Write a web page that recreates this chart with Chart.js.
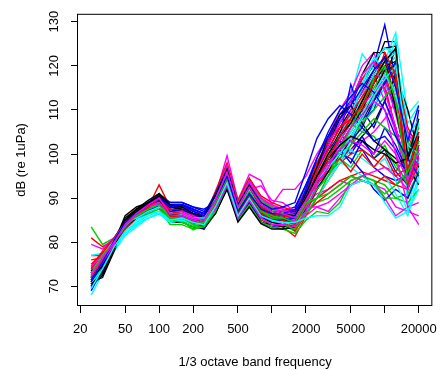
<!DOCTYPE html>
<html>
<head>
<meta charset="utf-8">
<script src="https://cdn.jsdelivr.net/npm/chart.js@4.4.1/dist/chart.umd.min.js"></script>
<style>
html, body { margin: 0; padding: 0; background: #fff; }
#wrap { width: 446px; height: 370px; }
</style>
</head>
<body>
<div id="wrap"><canvas id="c" width="446" height="370"></canvas></div>
<script>
// 1/3 octave band centre frequencies (Hz)
const bands = [25, 31.5, 40, 50, 63, 80, 100, 125, 160, 200, 250, 315, 400, 500, 630, 800, 1000, 1250, 1600, 2000, 2500, 3150, 4000, 5000, 6300, 8000, 10000, 12500, 16000, 20000];

// axis ticks
const xTickValues = [20, 50, 100, 200, 500, 1000, 2000, 5000, 10000, 20000];
const xTickLabels = ['20', '50', '100', '200', '500', '', '2000', '5000', '', '20000'];
const yTickValues = [70, 80, 90, 100, 110, 120, 130];

// default plotting palette, cycled over the recordings
const lineColours = ['#000000', '#FF0000', '#00CD00', '#0000FF', '#00FFFF', '#FF00FF'];

// band levels, dB re 1uPa, one array per recording
const spec01 = [72.5, 74, 79, 85.5, 87.5, 88.5, 89.5, 85.5, 85, 84, 83.5, 87.5, 93.5, 85.5, 89.5, 85.5, 84.5, 84, 83, 90, 96, 101, 106, 110, 114, 119, 125.5, 125.5, 92, 101];
const spec02 = [81, 79, 80.5, 83.5, 86, 88, 93, 88, 88, 87, 86.5, 90.5, 97, 88.5, 93, 89, 87.5, 87, 86.5, 88, 94, 99, 103, 107, 112, 118, 122, 112, 104, 99];
const spec03 = [83.5, 79.5, 81, 84.5, 86, 87, 88, 85, 85.5, 84, 85.5, 90, 95.5, 88, 93, 87.5, 86, 85, 83.5, 87, 93, 97, 101, 105, 109, 113, 117, 110, 96, 108];
const spec04 = [70, 75, 80, 84, 86.5, 88, 90.5, 89, 89, 88, 87.5, 89, 94, 86, 90.5, 86.5, 86, 86, 86.5, 92, 97, 102, 107, 111, 117, 120, 129.3, 117, 101, 104];
const spec05 = [68, 73, 78, 81.5, 83.5, 85.5, 86.5, 85, 85, 84, 83.5, 87, 92.5, 85, 89, 85.5, 84.5, 84, 85, 93, 99, 104, 108, 113, 122.7, 119, 121, 127.5, 109, 112];
const spec06 = [79.5, 78.5, 81, 84, 86.5, 88, 90, 87, 87, 86, 85, 90.5, 99.6, 89.5, 95.4, 94, 88.5, 92, 92, 95, 100, 104, 110, 114, 120, 123, 116, 105, 93, 97];
const spec07 = [71, 72, 78, 84, 87, 89, 90, 87.5, 87, 86, 85.5, 89.5, 96, 87.5, 92, 88.5, 87, 87, 86, 88, 92, 96, 99, 101, 104, 107, 112, 118, 110, 100];
const spec08 = [77, 77, 79.5, 84, 86.5, 88.5, 91, 86, 85, 84, 83.5, 87, 93, 85, 89, 85, 84, 83.5, 81.3, 86, 90, 94, 98, 102, 107, 113, 120, 122, 90, 96];
const spec09 = [73, 77, 80.5, 84, 86, 87.5, 88.5, 85.5, 86, 84.5, 83.5, 87.5, 93, 85.5, 90, 86, 84.5, 84, 82.5, 86.5, 89, 90, 92, 94, 95, 94, 93, 90, 91, 96];
const spec10 = [71.5, 76, 80, 83.5, 85.5, 87, 88, 86.5, 87, 86, 85, 88.5, 94, 87.5, 91, 87.5, 86, 86, 86.5, 90, 95, 100, 104, 115.8, 108, 110, 117, 110, 99, 96];
const spec11 = [77, 77.5, 79, 82.5, 84.5, 86.5, 88, 87, 86.5, 86, 85.5, 90, 96, 88, 92, 88, 87, 86.5, 85.5, 88, 92, 96, 99, 103, 107, 111, 115, 113, 100, 107];
const spec12 = [70.5, 75, 80, 84.5, 87, 88, 89, 87, 87, 86, 85, 89.5, 97.5, 89, 93.5, 90, 88, 87.5, 86.5, 89, 91, 92, 94, 93, 94, 93, 92, 88, 87, 86];
const spec13 = [74, 73, 79.5, 84.5, 87, 88.5, 89, 84.5, 84.5, 83.5, 83, 86.5, 92.5, 85, 88.5, 84.5, 83.5, 83, 83.5, 89, 95, 100, 105, 109, 115, 121, 124, 124.5, 96, 102];
const spec14 = [74.5, 78, 81, 85, 87, 88, 89.5, 87.5, 87, 86.5, 86, 91, 97, 89, 93, 89.5, 88, 87.5, 87, 91, 97, 103, 108, 112, 117, 121, 118, 111, 105, 103];
const spec15 = [72, 76.5, 80, 84, 86, 87, 88, 84.5, 85, 83, 84, 88.5, 94, 86.5, 90.5, 86.5, 85, 84.5, 84, 88, 92, 96, 99, 97, 101, 99, 102, 97, 94, 99];
const spec16 = [69.5, 74.5, 80, 84, 86.5, 88.5, 91, 89, 89, 88, 87, 90, 94, 87, 91, 87, 86.5, 87, 88, 93, 98, 101, 104, 103, 101, 97, 95, 94, 95, 110];
const spec17 = [72, 77, 81, 84, 85.5, 86.5, 86.5, 85.5, 85.5, 84.5, 84, 87.5, 93.5, 86, 89.5, 85.5, 84.5, 84, 83.5, 88, 94, 98, 103, 108, 116, 122, 119, 126, 88, 97];
const spec18 = [73, 76, 79, 83, 86, 87.5, 88.5, 86, 86.5, 85.5, 84.5, 89, 95, 87.5, 91.5, 87.5, 86, 85.5, 85.5, 88, 92, 95, 98, 101, 103, 105, 108, 112, 104, 103];
const spec19 = [70, 72.5, 78.5, 85, 87.5, 88.5, 89, 85.5, 85.5, 84.5, 83.5, 86.5, 92.5, 85, 89, 84.5, 84, 83.5, 84, 90, 96, 102, 108, 112, 118, 123, 123, 116, 102, 97];
const spec20 = [72.5, 76.5, 80.5, 84.5, 86.5, 88, 89.5, 86.5, 86, 85, 85, 89.5, 95.5, 87.5, 92, 87.5, 86.5, 85.5, 83, 87, 89, 91, 93, 95, 96, 95, 94, 93, 95, 99];
const spec21 = [71, 75.5, 79.5, 84, 86.5, 88, 89, 86.5, 86, 84.5, 83.5, 89.5, 96.5, 88.5, 93.5, 89.5, 87.5, 86.5, 85, 89, 94, 99, 104, 108, 112, 116, 121, 118, 97, 105];
const spec22 = [73.5, 77, 80, 83.5, 85.5, 87, 88.5, 88, 88.5, 87.5, 86.5, 88.5, 93.5, 85.5, 89.5, 85.5, 85, 85.5, 86, 91, 95, 98, 100, 99, 96, 92, 89.5, 92, 90, 96];
const spec23 = [69, 74, 79, 83, 85, 86.5, 87, 85.5, 86, 85.5, 85, 88.5, 94, 86.5, 90.5, 86.5, 85.5, 85, 84, 89, 94, 99, 102, 105, 110, 116, 120, 122, 107, 111];
const spec24 = [74, 76.5, 79.5, 83.5, 86, 87.5, 89, 87, 87, 86, 85.5, 90, 96, 89, 93.5, 90, 88.5, 87.5, 86.5, 90, 95, 99, 104, 110, 114, 118, 112, 105, 102, 99];
const spec25 = [71.5, 74, 79, 84, 86.5, 88, 89, 86.5, 85.5, 84.5, 84, 87.5, 93.5, 85.5, 90, 85.5, 84.5, 84, 83.5, 87, 92, 97, 101, 104, 108, 112, 117, 124, 98, 103];
const spec26 = [75, 77.5, 80, 84, 86, 87.5, 88.5, 86, 85.5, 84.5, 84, 88.5, 94.5, 87, 91, 87, 85.5, 85, 82.5, 86.5, 92, 97, 101, 106, 111, 117, 115, 106, 95, 102];
const spec27 = [73.5, 77, 80.5, 84, 86, 87.5, 88, 85, 85, 82.8, 84, 89, 95.5, 88.5, 92.5, 88.5, 86.5, 86, 84.5, 88.5, 93, 98, 103, 107, 110, 115, 119, 114, 103, 98];
const spec28 = [70.5, 75.5, 80, 84.5, 87, 89, 91, 88, 88.5, 87.5, 83, 87.5, 92, 85.5, 88.5, 85.5, 85, 85.5, 86.5, 91.5, 95, 99, 103, 100, 104, 99, 101, 96, 93, 100];
const spec29 = [71, 75.5, 79, 82, 84, 85.5, 86.5, 85.5, 86, 85, 84.5, 88.5, 94, 86.5, 90.5, 87, 86, 86, 86, 90, 95, 97, 98, 97, 95, 93, 95, 91, 86, 94];
const spec30 = [72, 76, 80, 84, 86, 87.5, 88, 85.5, 85.5, 84.5, 84, 89, 95, 88, 92, 92.8, 89.5, 89, 87, 86, 88, 87, 90, 93, 94, 93, 90, 86, 88, 84];
const spec31 = [73, 76, 80.5, 85, 87, 88.5, 90, 87.5, 87, 86, 85, 88.5, 95, 87, 91.5, 87, 86, 85.5, 85, 89, 94, 98, 102, 106, 110, 116, 120, 121, 93, 104];
const spec32 = [71.5, 75, 79, 83, 85.5, 87.5, 89, 86, 85.5, 85, 84.5, 89.5, 96, 88, 92.5, 88.5, 87, 86.5, 85, 88, 93, 96, 98, 100, 101, 99, 97, 96, 100, 103];
const spec33 = [74, 77, 80.5, 84.5, 87, 88, 88.5, 86, 85.5, 84.5, 84.5, 90.5, 97.5, 89.5, 94.5, 89.5, 88, 87, 86, 89, 95, 100, 104, 107, 105, 104, 101, 98, 93, 96];
const spec34 = [72, 76.5, 81, 84.5, 86.5, 88, 89.5, 88, 88, 86.5, 85.5, 87, 92.5, 84.8, 88.5, 84.5, 83.5, 84, 85, 90, 96, 103, 109, 112, 110, 106, 112, 106, 96, 100];
const spec35 = [70, 75, 79.5, 83.5, 85.5, 87, 88, 86.5, 86.5, 85.5, 85, 89, 95, 87.5, 91.5, 88, 86.5, 86, 85, 89.5, 96, 100, 104, 109, 115, 121, 124, 123, 104, 108];
const spec36 = [73.5, 77, 80, 84, 86, 87.5, 88.5, 86, 85.5, 84.5, 84, 87.5, 93.5, 86, 90, 86.5, 85, 84.5, 84, 88, 92, 96, 100, 104, 108, 114, 117, 109, 98, 102];
const spec37 = [71, 73.5, 78.5, 84, 87, 89, 90.5, 88, 87.5, 86, 85, 88.5, 94.5, 86, 90.5, 86, 85, 85, 84, 88, 93, 99, 104, 108, 113, 118, 122, 110, 97, 93];
const spec38 = [73, 77, 80.5, 84.5, 86.5, 88, 89.5, 87.5, 87, 86, 85.5, 91.5, 98, 89.5, 94.5, 90.5, 89, 88, 87, 92, 98, 103, 106, 108, 110, 113, 116, 119, 106, 101];
const spec39 = [72, 76, 79.5, 83.5, 85.5, 86.5, 87.5, 84, 84, 83, 83.5, 86.5, 92.5, 85, 88.5, 84.5, 83.5, 83, 82, 85, 87, 86.5, 89, 94, 95, 94, 90, 90, 89, 92];
const spec40 = [70, 74, 79.5, 83.5, 86, 88, 90, 88.5, 88.5, 87.5, 86.5, 89, 94, 86.5, 90.5, 86.5, 86, 86.5, 87, 91, 95, 98, 101, 103, 106, 112, 116, 121, 100, 106];
const spec41 = [72.5, 76.5, 80, 83, 84, 85.5, 86.5, 85, 85, 84.5, 84, 87.5, 93, 86, 89.5, 86, 85, 84.5, 84.5, 88, 93, 95, 98, 101, 99, 97, 99, 94, 87, 95];
const spec42 = [71.5, 75.5, 79.5, 84, 86.5, 88, 89.5, 87, 87, 86, 85, 90, 96.5, 88.5, 93, 89, 87.5, 87, 85.5, 90, 96, 102, 107, 112, 118, 121, 114, 106, 96, 102];
const spec43 = [72, 75, 80, 86, 88, 89, 89.5, 86, 85.5, 84.5, 83.5, 86.5, 92, 84.6, 88, 84.2, 83, 83, 83.5, 87.5, 92, 96, 100, 103, 108, 114, 119, 120, 100, 97];
const spec44 = [74, 77.5, 81, 84.5, 86, 87.5, 89, 86.5, 86, 85, 84, 88.5, 94.5, 87.5, 91.5, 87.5, 86, 85, 83.5, 88.5, 90, 92, 94, 95, 94, 93, 95, 93, 92, 98];
const spec45 = [70.5, 75, 79, 83.5, 86, 87.5, 88.5, 86, 85.5, 84, 84, 89.5, 95.5, 88.5, 92, 88, 86.5, 86, 85, 89, 94, 98, 101, 104, 107, 110, 113, 116, 101, 106];
const spec46 = [71, 76, 80.5, 84, 86, 88, 89.5, 88, 88.5, 87, 86, 88, 93, 86, 90, 86, 85.5, 85.5, 86, 90, 94, 97, 101, 98, 103, 100, 106, 102, 96, 99];
const spec47 = [73, 77, 80.5, 84, 85.5, 87, 88, 86.5, 86.5, 85.5, 85, 89.5, 95.5, 87.5, 92, 88, 86.5, 86, 85, 89, 95, 100, 104, 107, 113, 118, 121, 123, 97, 107];
const spec48 = [72.5, 76, 79.5, 83.5, 86, 88, 89, 87, 86.5, 85.5, 85, 90.5, 97.5, 89, 94, 90, 88.5, 87.5, 86, 89.5, 95, 99, 103, 107, 111, 114, 118, 114, 105, 100];
const spec49 = [73.5, 75, 80, 85, 87.5, 89, 90.5, 88, 87.5, 86.5, 85.5, 90, 96.5, 88, 92.5, 88, 86.5, 86, 85.5, 91, 97, 104, 109, 111, 107, 103, 101, 99, 96, 103];
const spec50 = [76, 76.5, 79, 83, 85.5, 87, 88, 85.5, 85.5, 84.5, 84, 88, 93.5, 86, 90, 86.5, 85, 84.5, 84, 89, 96, 101, 106, 109, 113, 117, 121, 116, 93, 100];
const spec51 = [72.5, 76, 80, 84, 86.5, 88, 89, 86, 86, 84.5, 84.5, 89, 95, 87.5, 91.5, 87, 86, 85.5, 84, 88, 92, 95, 99, 102, 105, 108, 106, 104, 97, 100];
const spec52 = [71, 75, 80, 84, 86, 87.5, 89, 88.5, 88.5, 87.5, 86.5, 91, 96.5, 88.5, 93, 89, 87.5, 88, 89, 96, 103.5, 108, 111, 109, 106, 103, 104, 101, 95, 102];
const spec53 = [70.5, 74, 78.5, 82, 84, 85.5, 86.5, 84.5, 85, 84, 84, 87.5, 93.5, 86, 90, 86, 85, 84.5, 84, 87, 90, 94, 98, 103, 109, 114, 118, 114, 101, 98];
const spec54 = [74.5, 77, 80, 84, 86, 87.5, 89, 86, 85.5, 84.5, 84, 88, 94, 87, 90.5, 86.5, 85.5, 85, 85, 88, 88, 89, 91, 93, 95, 96, 97, 95, 92, 99];
const spec55 = [72, 74.5, 79, 84.5, 87, 88.5, 89.5, 86.5, 86, 85, 84.5, 88.5, 94.5, 86.5, 91, 86.5, 85.5, 85, 84.5, 89, 95, 100, 104, 107, 112, 117, 121, 124, 99, 108];
const spec56 = [73, 76, 80, 84, 86, 87.5, 90, 87, 86.5, 85.5, 85, 89.5, 96, 88, 92.5, 88, 86.5, 86, 85.5, 90, 93, 97, 99, 96, 100, 97, 100, 95, 97, 102];
const spec57 = [71.5, 75.5, 80, 84.5, 86.5, 88, 88.5, 85, 84.5, 83.5, 83.5, 87, 93, 85.5, 89.5, 85.5, 84, 84, 83, 86.5, 90, 95, 101, 106, 111, 117, 120, 112, 94, 103];
const spec58 = [69, 74, 79.5, 83.5, 85.5, 87, 88.5, 87, 87.5, 86.5, 85, 87.5, 93, 85.5, 89.5, 86, 85, 85, 85.5, 92, 99, 105, 110, 113, 116, 114, 110, 104, 99, 95];
const spec59 = [72, 76, 80.5, 84.5, 85.5, 87, 88, 86.5, 86.5, 85.5, 85.5, 90, 96.5, 88.5, 93, 88.5, 87, 86.5, 86, 89, 94, 97, 100, 104, 108, 113, 117, 120, 102, 100];
const spec60 = [73, 75.5, 79.5, 84, 86.5, 88, 89, 86, 86, 85, 84.5, 87.5, 93, 85.5, 89.5, 85.5, 84, 84, 83.5, 87, 93, 97, 102, 106, 109, 112, 110, 100, 88, 89];
const spec61 = [70.5, 73, 78.5, 85, 87.5, 89.5, 91, 88.5, 88, 86.5, 86, 90.5, 96.5, 88.5, 93, 88.5, 87, 86.5, 86, 90, 95, 99, 102, 104, 103, 101, 100, 98, 99, 105];
const spec62 = [72, 76, 80, 84, 86, 88, 90, 86, 85.5, 84.5, 84, 88.5, 94, 86.5, 90.5, 86.5, 85.5, 85, 84, 89, 94, 99, 104, 108, 111, 116, 123, 118, 96, 105];
const spec63 = [73, 77, 80, 83.5, 86, 87.5, 88.5, 85.5, 85.5, 84, 84.5, 89, 94.5, 87.5, 91, 87, 85.5, 85.5, 84.5, 89, 90, 91, 93, 95, 94, 93, 91, 93, 96, 101];
const spec64 = [71.5, 75.5, 80.5, 84.5, 86.5, 88.5, 90, 88, 88.5, 87, 86, 89.5, 95, 87, 91, 87.5, 86.5, 86.5, 87.5, 93, 99, 104, 108, 111, 115, 119, 122, 115, 103, 111];
const spec65 = [69.5, 74, 79, 82.5, 84.5, 86, 87, 85, 85.5, 84.5, 84, 88, 93.5, 86, 90, 86, 85, 84.5, 84.5, 85.5, 86, 86, 88, 93, 94, 93, 89, 85.5, 87, 92];
const spec66 = [72.5, 76.5, 80, 84, 86.5, 88.5, 90, 86.5, 86.5, 85.5, 85, 89.5, 96, 88, 92.5, 88.5, 87, 86.5, 85.5, 89.5, 94, 98, 101, 103, 102, 100, 103, 100, 94, 101];

const spectra = [
  spec01, spec02, spec03, spec04, spec05, spec06, spec07, spec08, spec09, spec10, spec11,
  spec12, spec13, spec14, spec15, spec16, spec17, spec18, spec19, spec20, spec21, spec22,
  spec23, spec24, spec25, spec26, spec27, spec28, spec29, spec30, spec31, spec32, spec33,
  spec34, spec35, spec36, spec37, spec38, spec39, spec40, spec41, spec42, spec43, spec44,
  spec45, spec46, spec47, spec48, spec49, spec50, spec51, spec52, spec53, spec54, spec55,
  spec56, spec57, spec58, spec59, spec60, spec61, spec62, spec63, spec64, spec65, spec66
];

const FONT = 'Liberation Sans, Arial, Helvetica, sans-serif';

const datasets = spectra.map((levels, i) => ({
  data: bands.map((f, j) => ({ x: f, y: levels[j] })),
  borderColor: lineColours[i % lineColours.length],
  borderWidth: 1.4,
  pointRadius: 0,
  tension: 0,
  fill: false,
  order: spectra.length - i
}));

// box drawn round the plotting region
const frame = {
  id: 'frame',
  afterDraw(chart) {
    const { ctx, chartArea: a } = chart;
    ctx.save();
    ctx.strokeStyle = '#000';
    ctx.lineWidth = 1;
    ctx.strokeRect(a.left - 0.5, a.top + 0.5, a.right - a.left, a.bottom - a.top - 1);
    ctx.restore();
  }
};

new Chart(document.getElementById('c'), {
  type: 'line',
  data: { datasets },
  plugins: [frame],
  options: {
    responsive: false,
    animation: false,
    devicePixelRatio: 1,
    layout: { padding: { top: 8, right: 5, left: 0, bottom: 0 } },
    plugins: { legend: { display: false }, tooltip: { enabled: false } },
    scales: {
      x: {
        type: 'logarithmic',
        min: 19.1,
        max: 26400,
        afterBuildTicks(scale) { scale.ticks = xTickValues.map(v => ({ value: v })); },
        afterFit(scale) { scale.height = 64; },
        border: { display: false },
        grid: { drawOnChartArea: false, drawTicks: true, tickLength: 7, color: '#000', lineWidth: 1 },
        ticks: {
          autoSkip: false, maxRotation: 0, minRotation: 0, padding: 9,
          color: '#000', font: { family: FONT, size: 13 },
          callback(value, index) { return xTickLabels[index]; }
        },
        title: {
          display: true, text: '1/3 octave band frequency', color: '#000',
          font: { family: FONT, size: 13 }, padding: { top: 0, bottom: 0 }
        }
      },
      y: {
        type: 'linear',
        min: 65.55,
        max: 131.8,
        afterBuildTicks(scale) { scale.ticks = yTickValues.map(v => ({ value: v })); },
        afterFit(scale) { scale.width = 78; },
        border: { display: false },
        grid: { drawOnChartArea: false, drawTicks: true, tickLength: 7, color: '#000', lineWidth: 1 },
        ticks: {
          autoSkip: false, minRotation: 90, maxRotation: 90, crossAlign: 'center', padding: 6,
          color: '#000', font: { family: FONT, size: 13 },
          callback(value) { return String(value); }
        },
        title: {
          display: true, text: 'dB (re 1uPa)', color: '#000',
          font: { family: FONT, size: 13 }, padding: { top: 14, bottom: 0 }
        }
      }
    }
  }
});
</script>
</body>
</html>
